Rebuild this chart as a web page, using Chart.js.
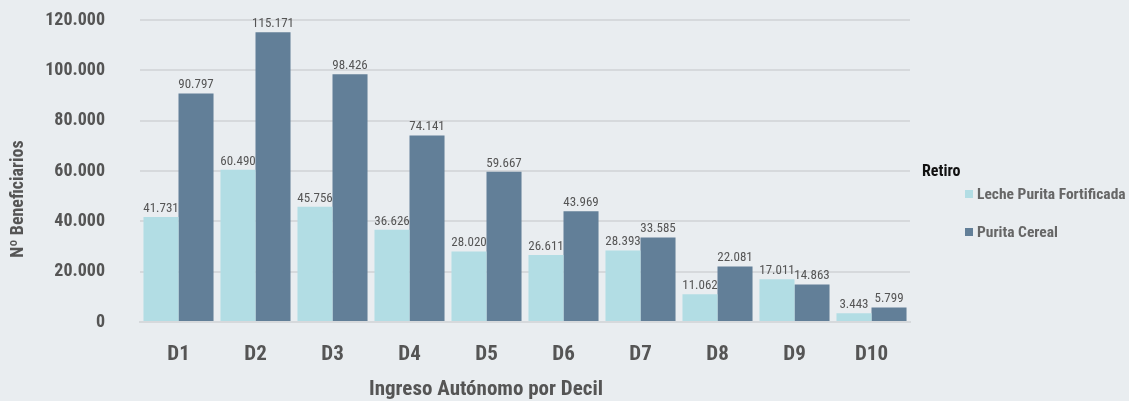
<!DOCTYPE html>
<html>
<head>
<meta charset="utf-8">
<script src="https://cdn.jsdelivr.net/npm/chart.js@4.4.1/dist/chart.umd.min.js"></script>
<style>
  html, body { margin: 0; padding: 0; background: #e9edf0; }
  #wrap { position: relative; width: 1129px; height: 401px; background: #e9edf0; }
  #legend { position: absolute; left: 922px; top: 161px; font-family: 'Roboto Condensed', 'Liberation Sans Narrow', 'DejaVu Sans Condensed', Roboto, sans-serif; font-weight: bold; }
  #legend .title { color: #111; font-size: 16px; height: 20px; line-height: 20px; }
  #legend .item { position: absolute; left: 43px; white-space: nowrap; color: #666; font-size: 15.5px; line-height: 20px; }
  #legend .box { display: inline-block; width: 8px; height: 8px; margin-right: 4px; vertical-align: 1px; }
</style>
</head>
<body>
<div id="wrap">
  <canvas id="chart" width="1129" height="401"></canvas>
  <div id="legend"></div>
</div>
<script>
// Datos
const deciles = ['D1', 'D2', 'D3', 'D4', 'D5', 'D6', 'D7', 'D8', 'D9', 'D10'];
const lecheFortificada = [41731, 60490, 45756, 36626, 28020, 26611, 28393, 11062, 17011, 3443];
const puritaCereal = [90797, 115171, 98426, 74141, 59667, 43969, 33585, 22081, 14863, 5799];
const nombresSeries = ['Leche Purita Fortificada', 'Purita Cereal'];
const coloresSeries = ['#b2dde4', '#627f98'];

const FONT = "'Roboto Condensed', 'Liberation Sans Narrow', 'DejaVu Sans Condensed', Roboto, sans-serif";
const fmt = v => Number(v).toLocaleString('de-DE');

// Etiquetas de valor sobre las barras + títulos de ejes
const etiquetasPlugin = {
    id: 'etiquetas',
    afterDatasetsDraw(chart) {
        const ctx = chart.ctx;
        ctx.save();
        ctx.font = '13px ' + FONT;
        ctx.fillStyle = '#555';
        ctx.textAlign = 'center';
        ctx.textBaseline = 'bottom';
        chart.data.datasets.forEach((ds, i) => {
            chart.getDatasetMeta(i).data.forEach((bar, j) => {
                ctx.fillText(fmt(ds.data[j]), bar.x, bar.y - 2);
            });
        });
        // títulos de ejes
        ctx.font = 'bold 21px ' + FONT;
        ctx.textBaseline = 'middle';
        ctx.fillText('Ingreso Autónomo por Decil', 486, 390);
        ctx.translate(18, 199);
        ctx.rotate(-Math.PI / 2);
        ctx.font = 'bold 18px ' + FONT;
        ctx.fillText('Nº Beneficiarios', 0, 0);
        ctx.restore();
    }
};

const chart = new Chart(document.getElementById('chart'), {
    type: 'bar',
    data: {
        labels: deciles,
        datasets: [
            { label: nombresSeries[0], data: lecheFortificada, backgroundColor: coloresSeries[0] },
            { label: nombresSeries[1], data: puritaCereal, backgroundColor: coloresSeries[1] }
        ]
    },
    options: {
        responsive: false,
        animation: false,
        layout: { padding: { top: 20, right: 219, bottom: 0, left: 0 } },
        categoryPercentage: 0.91,
        barPercentage: 1.0,
        plugins: {
            legend: { display: false },
            tooltip: { enabled: false }
        },
        scales: {
            x: {
                grid: { display: false, drawTicks: false },
                border: { display: true, color: '#d6d9dc', width: 2 },
                ticks: { color: '#555', font: { family: FONT, size: 21, weight: 'bold' }, padding: 20 },
                afterFit: s => { s.height = 79; }
            },
            y: {
                min: 0,
                max: 120000,
                // tick invisible y largo para separar las etiquetas del área sin inflar el padding superior
                grid: { color: '#d6d9dc', lineWidth: 2, drawTicks: true, tickLength: 32, tickColor: 'rgba(0,0,0,0)' },
                border: { display: false },
                ticks: {
                    stepSize: 20000,
                    color: '#555',
                    font: { family: FONT, size: 18, weight: 'bold' },
                    padding: 3,
                    callback: v => fmt(v)
                },
                afterFit: s => { s.width = 140; }
            }
        }
    },
    plugins: [etiquetasPlugin]
});

// Leyenda
const legend = document.getElementById('legend');
legend.innerHTML = '<div class="title">Retiro</div>';
nombresSeries.forEach((n, i) => {
    const it = document.createElement('div');
    it.className = 'item';
    it.style.top = (23 + i * 38) + 'px';
    it.innerHTML = '<span class="box" style="background:' + coloresSeries[i] + '"></span>' + n;
    legend.appendChild(it);
});
</script>
</body>
</html>
